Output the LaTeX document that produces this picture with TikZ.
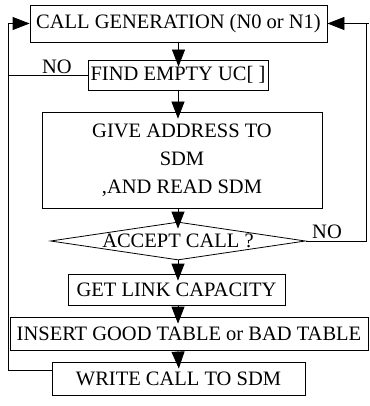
\documentclass[tikz,border=0pt]{standalone}
\usepackage{fontspec}
\setmainfont{Liberation Serif}
\usetikzlibrary{shapes.geometric, arrows.meta, positioning}
\tikzset{
  box/.style={draw, line width=0.8pt, rectangle, inner sep=0pt, font=\fontsize{20.5}{28}\selectfont},
  decide/.style={draw, line width=0.8pt, diamond, aspect=6.7, inner sep=0pt, font=\fontsize{20.5}{28}\selectfont},
  arr/.style={line width=0.8pt, -{Triangle[length=17pt, width=13pt]}, shorten >=-7pt},
  back/.style={line width=0.8pt, -{Triangle[length=17pt, width=13pt]}},
  lbl/.style={font=\fontsize{20.5}{22}\selectfont}
}

\begin{document}
\begin{tikzpicture}[x=1pt, y=-1pt]
    \useasboundingbox (0,0) rectangle (369,406);

    % Boxes
    \node[box, minimum width=297pt, minimum height=37pt] (callgen) at (178.5, 23.5) {CALL GENERATION (N0 or N1)};
    \node[box, minimum width=180pt, minimum height=30pt] (findemp) at (178, 75) {FIND EMPTY UC[ ]};
    \node[box, minimum width=280pt, minimum height=96pt, align=center] (addr) at (182, 160) {GIVE ADDRESS TO\\SDM\\,AND READ SDM};
    \node[decide, minimum width=255pt, minimum height=38pt] (accept) at (178, 241) {ACCEPT CALL ?};
    \node[box, minimum width=217pt, minimum height=31pt] (getlink) at (176.5, 289.5) {GET LINK CAPACITY};
    \node[box, minimum width=358pt, minimum height=33pt] (insert) at (189, 333.5) {INSERT GOOD TABLE or BAD TABLE};
    \node[box, minimum width=253pt, minimum height=33pt] (writesdm) at (178.5, 378.5) {WRITE CALL TO SDM};

    % Labels
    \node[lbl] (noleft) at (57, 67) {NO};
    \node[lbl] (noright) at (327, 232) {NO};

    % Arrows
    \draw[arr] (callgen.south) -- (callgen.south |- findemp.north);
    \draw[arr] (findemp.south) -- (findemp.south |- addr.north);
    \draw[arr] (findemp.south |- addr.south) -- (accept.north);
    \draw[arr] (accept.south) -- (accept.south |- getlink.north);
    \draw[arr] (accept.south |- getlink.south) -- (accept.south |- insert.north);
    \draw[arr] (accept.south |- insert.south) -- (writesdm.north);

    % Loops back
    \coordinate (leftrail) at (8, 370);
    \coordinate (rightrail) at (366, 241);
    \draw[line width=0.8pt] (findemp.west) -- (leftrail |- findemp.west);
    \draw[back] (writesdm.west |- leftrail) -- (leftrail) |- (callgen.west);
    \draw[line width=0.8pt] (accept.east) -- (rightrail) -- (rightrail |- callgen.east);
    \draw[back] (369, 23.5) -- (callgen.east);
\end{tikzpicture}
\end{document}
